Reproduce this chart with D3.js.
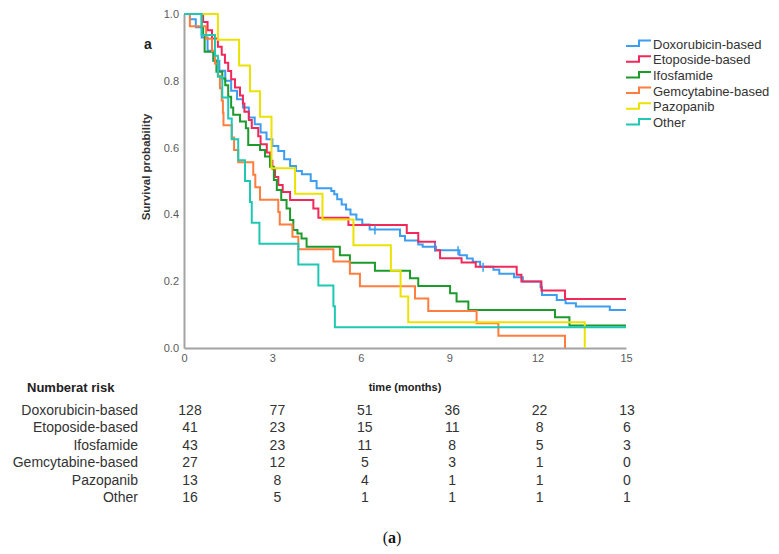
<!DOCTYPE html>
<html>
<head>
<meta charset="utf-8">
<script src="https://cdn.jsdelivr.net/npm/d3@7"></script>
<style>
  html, body { margin: 0; padding: 0; background: #fff; }
  svg { display: block; font-family: "Liberation Sans", Arial, sans-serif; }
</style>
</head>
<body>
<svg id="chart" width="779" height="554"></svg>
<script>
// ---------- DATA ----------
const seriesNames = ["Doxorubicin-based", "Etoposide-based", "Ifosfamide", "Gemcytabine-based", "Pazopanib", "Other"];

const doxTime = [0, 0.2, 0.4, 0.6, 0.8, 1.0, 1.2, 1.4, 1.6, 1.8, 2.0, 2.2, 2.4, 2.6, 2.8, 3.0, 3.2, 3.4, 3.6, 3.8, 4.0, 4.3, 4.5, 5.0, 5.1, 5.2, 5.35, 5.5, 5.65, 5.85, 6.05, 6.3, 7.33, 7.5, 7.95, 8.1, 8.55, 9.35, 9.6, 9.8, 10.05, 10.5, 10.7, 11.2, 11.5, 12.1, 12.15, 12.65, 12.95, 13.3, 14.45, 15];
const doxSurv = [1.0, 0.984, 0.96, 0.93, 0.89, 0.86, 0.83, 0.80, 0.77, 0.745, 0.72, 0.69, 0.67, 0.645, 0.625, 0.605, 0.59, 0.565, 0.545, 0.53, 0.52, 0.50, 0.478, 0.47, 0.46, 0.445, 0.43, 0.415, 0.40, 0.385, 0.37, 0.355, 0.335, 0.322, 0.31, 0.303, 0.293, 0.278, 0.268, 0.258, 0.243, 0.234, 0.222, 0.212, 0.199, 0.182, 0.159, 0.144, 0.134, 0.124, 0.114, 0.114];
const doxCensor = [6.48, 8.52, 9.3, 10.15];

const etoTime = [0, 0.65, 0.8, 0.95, 1.15, 1.28, 1.39, 1.5, 1.6, 1.73, 1.9, 2.0, 2.05, 2.2, 2.3, 2.52, 2.6, 2.81, 2.92, 3.0, 3.09, 3.2, 3.35, 3.6, 4.39, 4.56, 5.58, 7.56, 7.95, 8.52, 8.69, 9.42, 9.9, 11.29, 11.45, 12.13, 12.93, 15];
const etoSurv = [1.0, 0.976, 0.951, 0.927, 0.902, 0.878, 0.854, 0.829, 0.805, 0.780, 0.756, 0.732, 0.707, 0.683, 0.659, 0.634, 0.61, 0.585, 0.561, 0.537, 0.512, 0.488, 0.467, 0.443, 0.418, 0.39, 0.368, 0.344, 0.318, 0.293, 0.269, 0.256, 0.243, 0.219, 0.199, 0.172, 0.147, 0.147];

const ifoTime = [0, 0.6, 0.65, 0.7, 1.0, 1.1, 1.3, 1.4, 1.5, 1.6, 1.67, 1.9, 2.1, 2.18, 2.58, 2.75, 2.92, 3.05, 3.15, 3.3, 3.48, 3.6, 3.71, 3.85, 3.99, 4.16, 5.29, 5.63, 6.48, 7.67, 7.95, 9.03, 9.25, 9.65, 12.59, 13.08, 15];
const ifoSurv = [1.0, 0.96, 0.937, 0.887, 0.86, 0.827, 0.807, 0.787, 0.752, 0.72, 0.698, 0.678, 0.658, 0.608, 0.593, 0.573, 0.543, 0.503, 0.473, 0.443, 0.418, 0.383, 0.353, 0.343, 0.328, 0.303, 0.278, 0.255, 0.231, 0.209, 0.186, 0.164, 0.139, 0.114, 0.092, 0.067, 0.067];

const gemTime = [0, 0.2, 0.75, 0.95, 1.05, 1.15, 1.22, 1.28, 1.32, 1.34, 1.62, 1.7, 1.84, 2.35, 2.42, 2.58, 3.2, 3.25, 3.68, 3.88, 5.07, 5.63, 5.97, 7.84, 8.29, 9.93, 10.67, 12.93];
const gemSurv = [1.0, 0.963, 0.926, 0.889, 0.852, 0.815, 0.778, 0.741, 0.704, 0.667, 0.63, 0.593, 0.556, 0.519, 0.481, 0.444, 0.407, 0.37, 0.333, 0.296, 0.259, 0.222, 0.185, 0.148, 0.111, 0.074, 0.037, 0];

const pazTime = [0, 1.15, 1.87, 2.24, 2.58, 2.97, 3.77, 4.7, 5.75, 7.02, 7.35, 7.61, 13.6];
const pazSurv = [1.0, 0.923, 0.846, 0.769, 0.692, 0.538, 0.462, 0.385, 0.308, 0.231, 0.154, 0.077, 0];

const othTime = [0, 0.6, 1.05, 1.15, 1.3, 1.5, 1.62, 1.84, 2.07, 2.24, 2.3, 2.56, 3.88, 4.56, 5.07, 5.12, 15];
const othSurv = [1.0, 0.9375, 0.875, 0.8125, 0.75, 0.6875, 0.625, 0.5625, 0.5, 0.4375, 0.375, 0.3125, 0.25, 0.1875, 0.125, 0.0625, 0.0625];

const seriesTimes = [doxTime, etoTime, ifoTime, gemTime, pazTime, othTime];
const seriesSurv = [doxSurv, etoSurv, ifoSurv, gemSurv, pazSurv, othSurv];
const seriesColors = ["#3d9df0", "#f2285a", "#1e9a2c", "#ff7d3e", "#ece200", "#1fc8b3"];

const xTicks = [0, 3, 6, 9, 12, 15];
const yTicks = [0, 0.2, 0.4, 0.6, 0.8, 1.0];

const riskTimes = [0, 3, 6, 9, 12, 15];
const riskDox = [128, 77, 51, 36, 22, 13];
const riskEto = [41, 23, 15, 11, 8, 6];
const riskIfo = [43, 23, 11, 8, 5, 3];
const riskGem = [27, 12, 5, 3, 1, 0];
const riskPaz = [13, 8, 4, 1, 1, 0];
const riskOth = [16, 5, 1, 1, 1, 1];
const riskRows = [riskDox, riskEto, riskIfo, riskGem, riskPaz, riskOth];

// ---------- CHART ----------
const svg = d3.select("#chart");
const x = d3.scaleLinear().domain([0, 15]).range([184, 626]);
const y = d3.scaleLinear().domain([0, 1]).range([348, 14]);

// axes
const axisColor = "#a3a3a3";
const yAxis = svg.append("g").attr("transform", "translate(184,0)")
  .call(d3.axisLeft(y).tickValues(yTicks).tickFormat(d3.format(".1f")).tickSize(0).tickPadding(5));
const xAxis = svg.append("g").attr("transform", "translate(0,348)")
  .call(d3.axisBottom(x).tickValues(xTicks).tickSize(0).tickPadding(6));
[yAxis, xAxis].forEach(g => {
  g.select(".domain").attr("stroke", axisColor).attr("stroke-width", 2);
  g.selectAll("text").attr("fill", "#5a5a5a").style("font-size", "11px")
    .style("font-family", "'Liberation Sans', Arial, sans-serif");
});

// curves
const line = d3.line().x(d => x(d[0])).y(d => y(d[1])).curve(d3.curveStepAfter);
seriesNames.forEach((name, i) => {
  const pts = seriesTimes[i].map((t, j) => [t, seriesSurv[i][j]]);
  svg.append("path")
    .attr("d", line(pts))
    .attr("fill", "none")
    .attr("stroke", seriesColors[i])
    .attr("stroke-width", 2);
});

// censor marks on Doxorubicin curve
function stepValue(times, surv, t) {
  let v = surv[0];
  for (let j = 0; j < times.length; j++) { if (times[j] <= t) v = surv[j]; }
  return v;
}
doxCensor.forEach(t => {
  const v = stepValue(doxTime, doxSurv, t);
  svg.append("line")
    .attr("x1", x(t)).attr("x2", x(t))
    .attr("y1", y(v) - 4).attr("y2", y(v) + 5)
    .attr("stroke", seriesColors[0]).attr("stroke-width", 1.5);
});

// labels
svg.append("text").attr("x", 148).attr("y", 49).attr("text-anchor", "middle")
  .style("font-size", "14px").style("font-weight", "bold").attr("fill", "#222").text("a");

svg.append("text")
  .attr("transform", "translate(150,167) rotate(-90)")
  .attr("text-anchor", "middle")
  .style("font-size", "11.5px").style("font-weight", "bold").attr("fill", "#333")
  .text("Survival probability");

// legend
const legend = svg.append("g");
seriesNames.forEach((name, i) => {
  const cy = 44 + i * 15.7;
  const pts = [[626, cy + 2], [639, cy + 2], [639, cy - 3.5], [651, cy - 3.5]];
  legend.append("path")
    .attr("d", d3.line()(pts))
    .attr("fill", "none").attr("stroke", seriesColors[i]).attr("stroke-width", 2);
  legend.append("text").attr("x", 653).attr("y", cy + 4.5)
    .style("font-size", "13px").attr("fill", "#333").text(name);
});

// number at risk table
svg.append("text").attr("x", 27).attr("y", 392)
  .style("font-size", "13px").style("font-weight", "bold").attr("fill", "#222")
  .text("Numberat risk");
svg.append("text").attr("x", 405).attr("y", 391).attr("text-anchor", "middle")
  .style("font-size", "11px").style("font-weight", "bold").attr("fill", "#222")
  .text("time (months)");

const riskX = d3.scaleLinear().domain([0, 15]).range([190, 627]);
riskRows.forEach((row, i) => {
  const by = 415 + i * 17.4;
  svg.append("text").attr("x", 138).attr("y", by).attr("text-anchor", "end")
    .style("font-size", "14px").attr("fill", "#333").text(seriesNames[i]);
  row.forEach((n, j) => {
    svg.append("text").attr("x", riskX(riskTimes[j])).attr("y", by).attr("text-anchor", "middle")
      .style("font-size", "14px").attr("fill", "#333").text(n);
  });
});

// caption
const cap = svg.append("text").attr("x", 392).attr("y", 543).attr("text-anchor", "middle")
  .style("font-family", "'Liberation Serif', 'Times New Roman', serif").style("font-size", "16px").attr("fill", "#111");
cap.append("tspan").text("(");
cap.append("tspan").style("font-weight", "bold").text("a");
cap.append("tspan").text(")");
</script>
</body>
</html>
